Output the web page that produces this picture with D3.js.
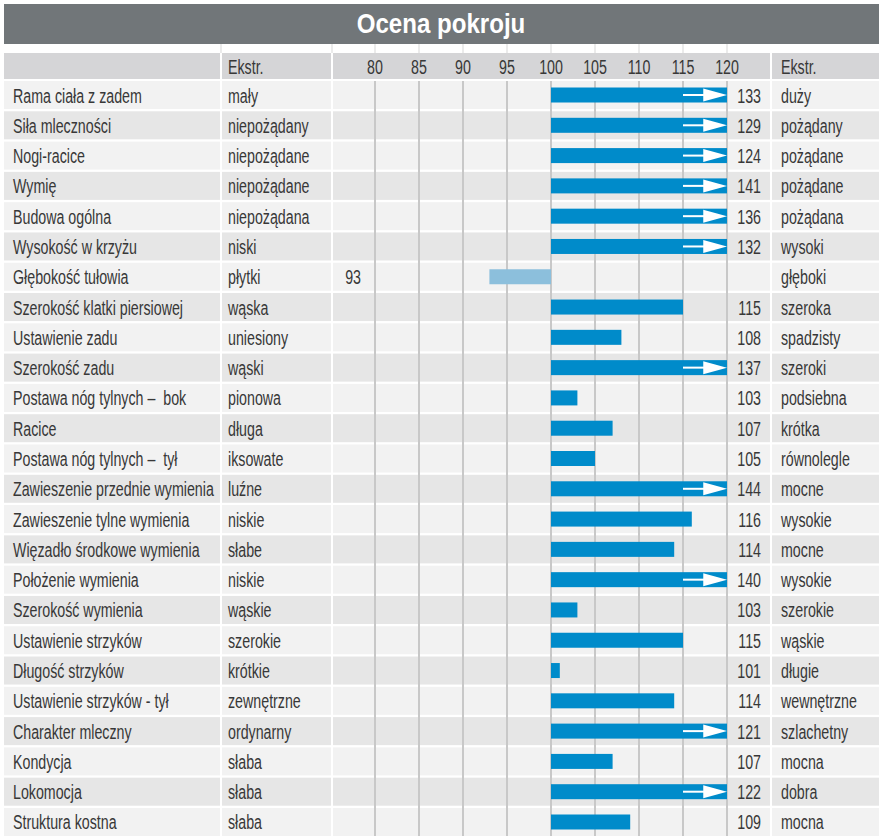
<!DOCTYPE html>
<html><head><meta charset="utf-8">
<script src="https://cdn.jsdelivr.net/npm/d3@7"></script>
<style>
html,body{margin:0;padding:0;background:#fff;}
svg{display:block;}
text{white-space:pre;}
</style></head>
<body>
<script>
const title = "Ocena pokroju";
const headerLeft = "Ekstr.";
const headerRight = "Ekstr.";
const traits = ["Rama ciała z zadem","Siła mleczności","Nogi-racice","Wymię","Budowa ogólna","Wysokość w krzyżu","Głębokość tułowia","Szerokość klatki piersiowej","Ustawienie zadu","Szerokość zadu","Postawa nóg tylnych –  bok","Racice","Postawa nóg tylnych –  tył","Zawieszenie przednie wymienia","Zawieszenie tylne wymienia","Więzadło środkowe wymienia","Położenie wymienia","Szerokość wymienia","Ustawienie strzyków","Długość strzyków","Ustawienie strzyków - tył","Charakter mleczny","Kondycja","Lokomocja","Struktura kostna"];
const lowExtremes = ["mały","niepożądany","niepożądane","niepożądane","niepożądana","niski","płytki","wąska","uniesiony","wąski","pionowa","długa","iksowate","luźne","niskie","słabe","niskie","wąskie","szerokie","krótkie","zewnętrzne","ordynarny","słaba","słaba","słaba"];
const values = [133,129,124,141,136,132,93,115,108,137,103,107,105,144,116,114,140,103,115,101,114,121,107,122,109];
const highExtremes = ["duży","pożądany","pożądane","pożądane","pożądana","wysoki","głęboki","szeroka","spadzisty","szeroki","podsiebna","krótka","równolegle","mocne","wysokie","mocne","wysokie","szerokie","wąskie","długie","wewnętrzne","szlachetny","mocna","dobra","mocna"];
const tickValues = [80,85,90,95,100,105,110,115,120];

const W = 883, H = 839;
const FONT = "'Liberation Sans',Arial,sans-serif";
const svg = d3.select("body").append("svg").attr("width", W).attr("height", H)
  .style("font-family", FONT);

const textColor = "#383838";
const SX = 0.73, FS = 19.5;
function addText(px, py, str, opt={}){
  const sx = opt.sx ?? SX;
  return svg.append("text")
    .attr("transform",`translate(${px},${py}) scale(${sx},1)`)
    .attr("text-anchor", opt.anchor || "start")
    .attr("font-size", opt.size || FS)
    .attr("font-weight", opt.weight || "normal")
    .attr("fill", opt.fill || textColor)
    .attr("xml:space","preserve")
    .text(str);
}

const col = {c1:[4,220], c2:[222,331], c3:[333,770], c4:[772,879]};
const x = d3.scaleLinear().domain([80,120]).range([375,727]);
const y = d3.scaleBand().domain(traits).range([81,836]).paddingInner(0.075);
const gridTop = 81, gridBottom = 836;

// title bar
svg.append("rect").attr("x",4).attr("y",4).attr("width",875).attr("height",40).attr("fill","#717679");
addText(441, 33, title, {anchor:"middle", size:28, weight:"bold", fill:"#fff", sx:0.86});

// faint lines in gap
[221,332].concat(tickValues.map(x)).forEach(px=>{
  svg.append("line").attr("x1",px).attr("x2",px).attr("y1",44).attr("y2",53)
    .attr("stroke","#e4e4e4").attr("stroke-width",1.5);
});

// header row
const hy = 53, hh = 26;
Object.values(col).forEach(c=>{
  svg.append("rect").attr("x",c[0]).attr("y",hy).attr("width",c[1]-c[0]).attr("height",hh).attr("fill","#d5d5d7");
});
addText(228, hy+21, headerLeft);
addText(781, hy+21, headerRight);
tickValues.forEach(d=> addText(x(d), hy+21, d, {anchor:"middle"}));

// rows
const rows = svg.append("g").selectAll("g").data(traits).join("g")
  .attr("transform",d=>`translate(0,${y(d)})`);
Object.values(col).forEach(c=>{
  rows.append("rect").attr("x",c[0]).attr("width",c[1]-c[0]).attr("height",y.bandwidth())
    .attr("fill",(d,i)=> i%2===0 ? "#f2f2f2" : "#e6e6e6");
});

// gridlines
svg.append("g").selectAll("line").data(tickValues).join("line")
  .attr("x1",d=>x(d)).attr("x2",d=>x(d)).attr("y1",gridTop).attr("y2",gridBottom)
  .attr("stroke","#c8c8c8").attr("stroke-width",2);

const bh = 15;
const bc = (i)=> y(traits[i]) + y.bandwidth()/2;
// bars
const bars = svg.append("g");
values.forEach((v,i)=>{
  const cy = bc(i);
  const v0 = Math.min(v,100), v1 = Math.min(Math.max(v,100),120);
  bars.append("rect").attr("x",x(v0)).attr("y",cy-bh/2).attr("width",x(v1)-x(v0)).attr("height",bh)
    .attr("fill", v<100 ? "#8cbfdc" : "#008bca");
  if (v>120){
    bars.append("rect").attr("x",x(115)).attr("y",cy-1).attr("width",x(117.4)-x(115)).attr("height",2).attr("fill","#fff");
    bars.append("path").attr("d",`M${x(117.3)},${cy-6.5}L${x(120)},${cy}L${x(117.3)},${cy+6.5}Z`).attr("fill","#fff");
  }
});

// texts in rows
const tb = (i)=> bc(i) + 7.5;
traits.forEach((t,i)=>{
  addText(13, tb(i), t);
  addText(228, tb(i), lowExtremes[i]);
  addText(781, tb(i), highExtremes[i]);
  const v = values[i];
  addText(v<100 ? 361 : 761, tb(i), v, {anchor:"end"});
});
</script>
</body></html>
